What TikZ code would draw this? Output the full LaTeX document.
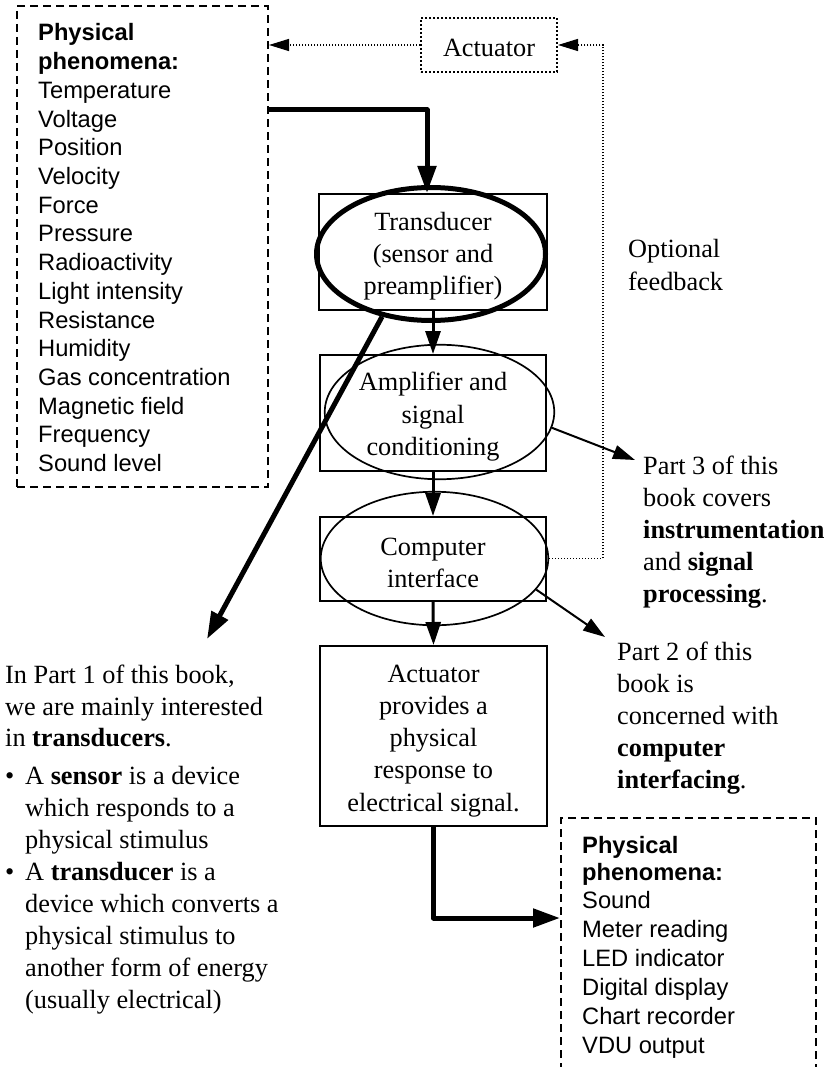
\documentclass[tikz,border=0pt]{standalone}
\usepackage{fontspec}
\setmainfont{Liberation Serif}
\newfontfamily\sansf{Liberation Sans}
\usetikzlibrary{arrows.meta,shapes.geometric}
\newcommand\serifsz{\fontsize{26.3}{32.2}\selectfont}
\newcommand\sanssz{\sansf\fontsize{23.7}{28.7}\selectfont}
\newcommand\topsp[1]{\rule{0pt}{#1}}
\begin{document}
\begin{tikzpicture}[x=1pt,y=-1pt,
  box/.style={draw, line width=2pt, inner sep=0pt, font=\serifsz, align=center},
  oval/.style={draw, ellipse, line width=1.7pt, inner sep=0pt},
  thickarrow/.style={line width=5pt, line join=round, -{Triangle[length=27pt,width=18pt]}},
  thinarrow/.style={line width=3pt, -{Triangle[length=23pt,width=15pt]}},
  diagarrow/.style={line width=2pt, -{Triangle[length=22pt,width=14pt]}},
  dotarrow/.style={line width=1.3pt, dash pattern=on 1.3pt off 1.7pt, -{Triangle[length=20pt,width=12pt]}},
  dashbox/.style={draw, line width=2pt, dash pattern=on 8pt off 5pt, inner sep=0pt},
  sanstxt/.style={font=\sanssz, anchor=base west, inner sep=0pt},
  seriftxt/.style={font=\serifsz, anchor=base west, inner sep=0pt}]
\useasboundingbox (0,0) rectangle (835,1067);
\clip (0,0) rectangle (835,1067);

% left dashed box
\node[dashbox, minimum width=251pt, minimum height=481pt] (lbox) at (142.5,246.5) {};
\node[sanstxt] (lp1) at (38,41) {\bfseries Physical};
\node[sanstxt] (lp2) at (38,70) {\bfseries phenomena:};
\foreach \t [count=\i from 0] in {Temperature,Voltage,Position,Velocity,Force,Pressure,Radioactivity,Light intensity,Resistance,Humidity,Gas concentration,Magnetic field,Frequency,Sound level}
  \node[sanstxt] (lq\i) at (38,98.5+\i*28.7) {\t};

% right dashed box
\node[dashbox, minimum width=255pt, minimum height=272pt] (rbox) at (688.5,954) {};
\node[sanstxt] (rp1) at (582,853.5) {\bfseries Physical};
\node[sanstxt] (rp2) at (582,880.5) {\bfseries phenomena:};
\foreach \t [count=\i from 0] in {Sound,Meter reading,LED indicator,Digital display,Chart recorder,VDU output}
  \node[sanstxt] (rq\i) at (582,908.5+\i*28.9) {\t};

% top actuator
\node[draw, line width=2pt, dash pattern=on 2pt off 2pt, minimum width=136pt, minimum height=54pt, inner sep=0pt, font=\serifsz] (topact) at (489,45) {\topsp{24pt}Actuator};

% main column
\node[box, minimum width=228pt, minimum height=116pt] (trect) at (433,252) {\topsp{27pt}Transducer\\(sensor and\\preamplifier)};
\node[box, minimum width=226pt, minimum height=116pt] (arect) at (433,413) {\topsp{26pt}Amplifier and\\signal\\conditioning};
\node[box, minimum width=226pt, minimum height=84pt] (crect) at (433,559) {\topsp{24.5pt}Computer\\interface};
\node[box, minimum width=227pt, minimum height=180pt] (xrect) at (433.5,736) {\topsp{27pt}Actuator\\provides a\\physical\\response to\\electrical signal.};

\node[oval, line width=5pt, minimum width=229pt, minimum height=133pt] (tell) at (431,254) {};
\node[oval, minimum width=229.5pt, minimum height=134.5pt] (aell) at (439.5,412) {};
\node[oval, minimum width=227.5pt, minimum height=133.5pt] (cell) at (434.5,558.5) {};

% right texts
\node[seriftxt] (opt1) at (628,258) {Optional};
\node[seriftxt] (opt2) at (628,290) {feedback};

\node[seriftxt] (pa1) at (643,474) {Part 3 of this};
\node[seriftxt] (pa2) at (643,506.2) {book covers};
\node[seriftxt] (pa3) at (643,538.4) {\textbf{instrumentation}};
\node[seriftxt] (pa4) at (643,570.6) {and \textbf{signal}};
\node[seriftxt] (pa5) at (643,602.8) {\textbf{processing}.};

\node[seriftxt] (pb1) at (617,660) {Part 2 of this};
\node[seriftxt] (pb2) at (617,692) {book is};
\node[seriftxt] (pb3) at (617,724) {concerned with};
\node[seriftxt] (pb4) at (617,756) {\textbf{computer}};
\node[seriftxt] (pb5) at (617,788) {\textbf{interfacing}.};

% left texts
\node[seriftxt] (in1) at (5,683) {In Part 1 of this book,};
\node[seriftxt] (in2) at (5,715) {we are mainly interested};
\node[seriftxt] (in3) at (5,746) {in \textbf{transducers}.};
\node[seriftxt] (bu1) at (5,784) {•};
\node[seriftxt] (s1) at (25,784) {A \textbf{sensor} is a device};
\node[seriftxt] (s2) at (25,816) {which responds to a};
\node[seriftxt] (s3) at (25,848) {physical stimulus};
\node[seriftxt] (bu2) at (5,880) {•};
\node[seriftxt] (t1) at (25,880) {A \textbf{transducer} is a};
\node[seriftxt] (t2) at (25,912) {device which converts a};
\node[seriftxt] (t3) at (25,944) {physical stimulus to};
\node[seriftxt] (t4) at (25,976) {another form of energy};
\node[seriftxt] (t5) at (25,1008) {(usually electrical)};

% coordinates
\coordinate (ly) at (0,110);
\coordinate (ry) at (0,918);
\coordinate (fbx) at (603,0);
\coordinate (p1) at (207,639);
\coordinate (p3) at (635,460);
\coordinate (p2) at (605,637);

% connectors
\draw[thickarrow] (lbox.east |- ly) -| ([xshift=-6pt]trect.north);
\draw[thinarrow] (trect.south) -- (arect.north);
\draw[thinarrow] (arect.south) -- (crect.north);
\draw[thinarrow] (crect.south) -- (xrect.north);
\draw[thickarrow] (xrect.south) |- (rbox.west |- ry);
\draw[thickarrow] (tell.232) -- (p1);
\draw[diagarrow] (aell.-8) -- (p3);
\draw[diagarrow] (cell.-17) -- (p2);
\draw[dotarrow] (cell.east) -- (cell.east -| fbx) |- (topact.east);
\draw[dotarrow] (topact.west) -- (topact.west -| lbox.east);
\end{tikzpicture}
\end{document}
